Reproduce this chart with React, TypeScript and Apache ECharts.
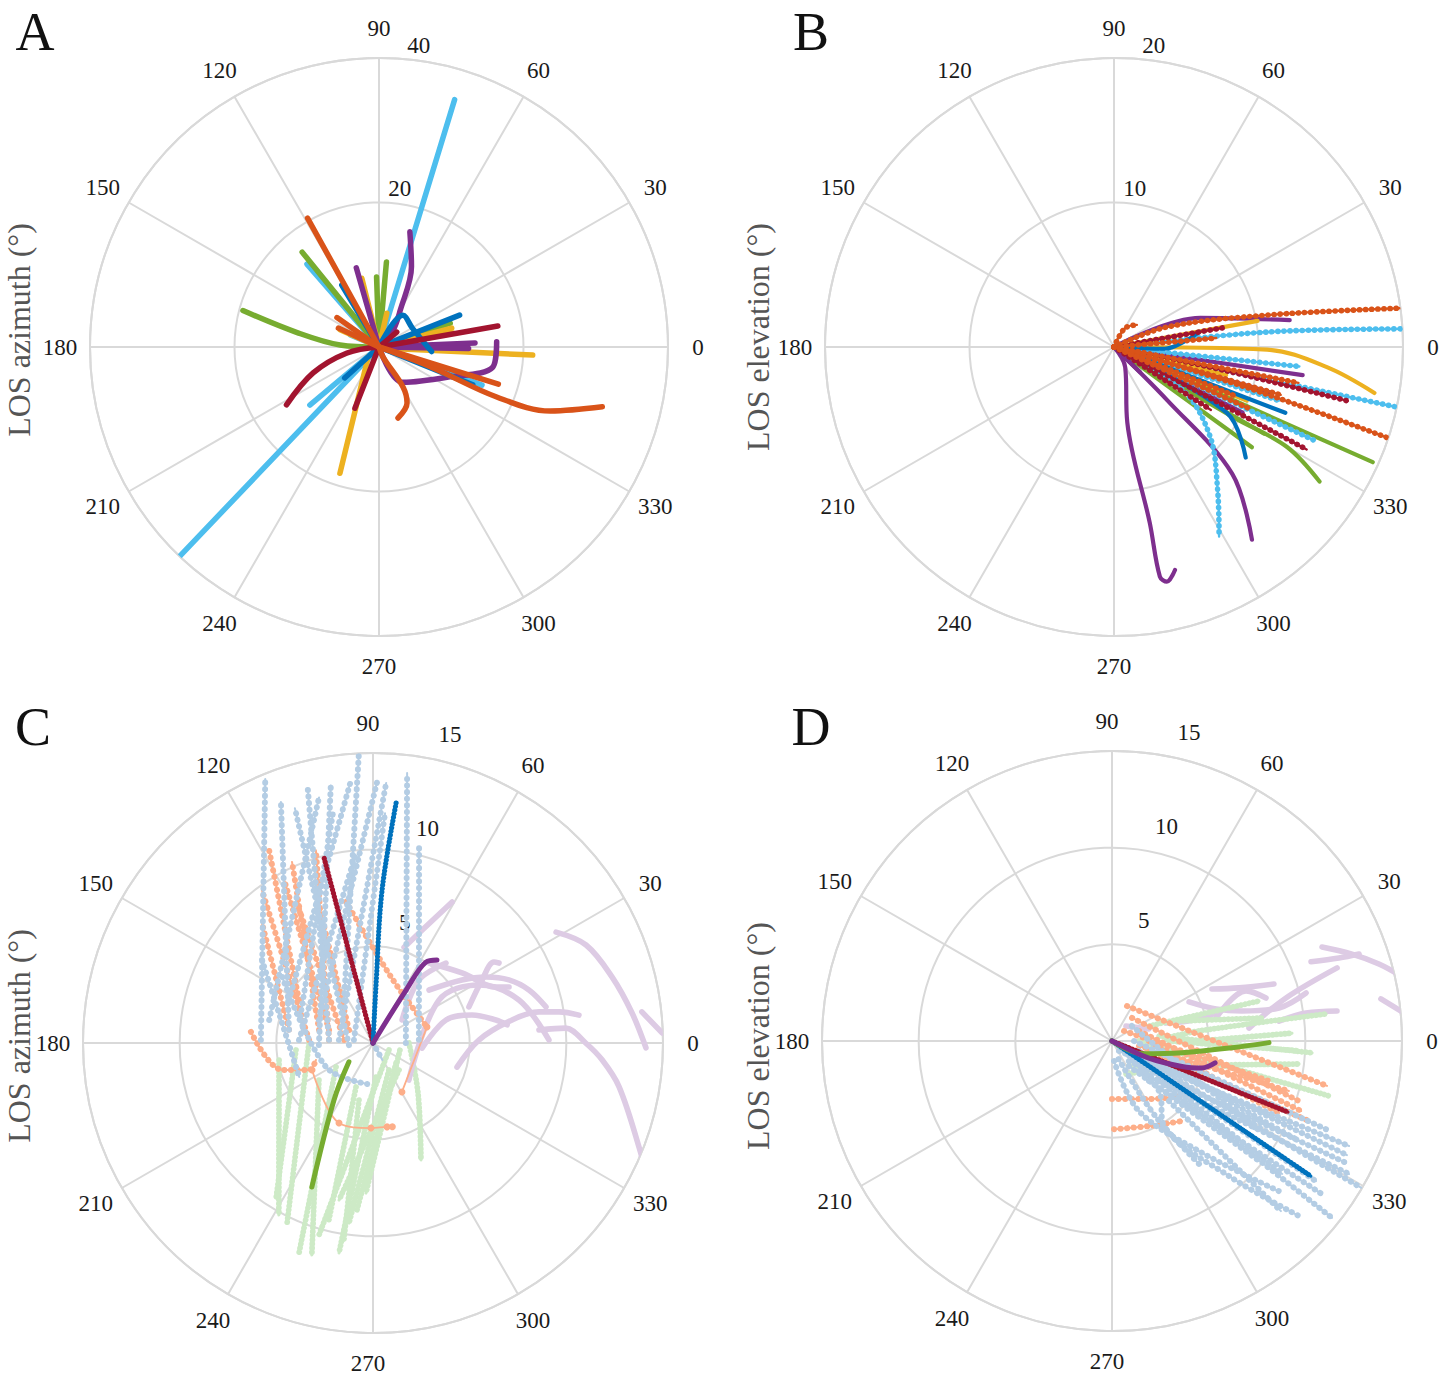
import { useEffect, useRef } from "react";
import * as echarts from "echarts";

type Pt = [number, number]; // [radius, angle in degrees]
type Track = Pt[];

// ---------- tick labels ----------
const ANGLE_TICKS = [0, 30, 60, 90, 120, 150, 180, 210, 240, 270, 300, 330];
const A_RINGS = [20, 40];
const B_RINGS = [10, 20];
const C_RINGS = [5, 10, 15];
const D_RINGS = [5, 10, 15];

// ---------- Panel A (LOS azimuth), values [r, angle] ----------
const aBlue: Track[] = [
  [[0, 121], [10, 121]],
  [[0, 21.6], [12, 21.6]],
  [[0, 60], [5.5, 53], [5.3, 30], [7.3, 355]],
  [[0, 222], [6.4, 222]],
  [[0, 340], [14, 338]],
];
const aOrange: Track[] = [
  [[0, 119], [20.4, 119]],
  [[0, 339], [7.6, 339], [17.7, 337], [25.3, 339.5], [32, 345]],
  [[0, 342], [17.3, 342.7]],
  [[0, 292], [1.5, 292], [6.45, 301], [8.67, 296.6], [10.17, 285]],
  [[0, 145], [7.1, 145]],
  [[0, 155], [6.2, 155]],
];
const aYellow: Track[] = [
  [[1, 350], [21.3, 357]],
  [[2, 222], [18.3, 252.8]],
  [[0, 104], [9.8, 104]],
  [[0, 77], [4.8, 77]],
  [[0, 14.6], [10.4, 14.6]],
  [[0, 10.7], [10.4, 10.7]],
  [[0, 156], [5.9, 156]],
];
const aPurple: Track[] = [
  [[0, 106], [11.4, 106]],
  [[0, 45], [3, 50], [5.9, 60], [12, 68], [16.5, 75]],
  [[0, 10], [13.3, 2.4]],
  [[0, 355], [12.4, 359]],
  [[0, 300], [5.9, 304], [10.3, 336], [16, 350], [16.3, 2.5]],
];
const aGreen: Track[] = [
  [[0, 129], [16.9, 129]],
  [[0, 180], [5.4, 177], [11.5, 170], [19.5, 165]],
  [[0, 92], [9.7, 92]],
  [[0, 85], [11.8, 85]],
  [[0, 18.6], [10.4, 18.6]],
];
const aCyan: Track[] = [
  [[0, 73], [35.8, 73]],
  [[0, 226.4], [42.6, 226.4]],
  [[0, 220], [12.5, 220]],
  [[0, 131], [15.2, 131]],
  [[0, 157], [4.3, 157]],
  [[0, 339.7], [15.2, 339.7]],
];
const aRed: Track[] = [
  [[0, 10], [16.7, 10]],
  [[0, 248.5], [9.1, 248.5]],
  [[0, 180], [4.5, 190.6], [9.8, 201.5], [15.1, 212]],
  [[0, 40], [3.2, 40]],
];

// ---------- Panel B (LOS elevation) ----------
const bOrange: Track[] = [
  [[0, 30], [3.9, 20.7], [10.8, 11.8], [20.1, 7.7]],
  [[0, 10], [7.1, 5]],
  [[0, 345], [10, 343], [20.4, 341.6]],
  [[0, 335], [10.2, 335.5]],
  [[0, 80], [1.5, 60], [2.2, 44]],
  [[0, 348], [12, 344]],
  [[0, 340], [9, 338]],
  [[0, 352], [13, 349]],
];
const bPurple: Track[] = [
  [[0, 25], [6.3, 18.6], [12.3, 8.7]],
  [[0, 351], [13.2, 351.5]],
  [[0, 343], [11.4, 343.8]],
  [[0, 320], [5.2, 315], [12, 313], [16.4, 305.6]],
  [[0, 310], [1.6, 299], [5.3, 280], [12.4, 281.5], [16.2, 281.3], [16.65, 282.7], [16, 285.3]],
  [[0, 320], [2.5, 316]],
  [[0, 338], [10, 333]],
];
const bYellow: Track[] = [
  [[0, 15], [10.1, 10.3]],
  [[0, 3], [10.6, 359], [14.8, 354.6], [18.3, 350]],
  [[0, 338], [9.9, 338]],
  [[0, 350], [8, 346]],
];
const bRed: Track[] = [
  [[0, 12], [7.6, 10]],
  [[0, 347], [8, 348], [16.6, 347]],
  [[0, 332], [15.1, 332]],
  [[0, 328], [8, 327]],
];
const bCyan: Track[] = [
  [[0, 8], [10.6, 5.6], [20, 3.6]],
  [[0, 354], [12.9, 354]],
  [[0, 348], [20.5, 348]],
  [[0, 335], [15.3, 335]],
  [[0, 330], [5.6, 328], [9.1, 317], [12.2, 306], [15, 299]],
  [[0, 345], [12, 342]],
];
const bBlue: Track[] = [
  [[0, 350], [3.5, 358], [5, 5], [6, 10]],
  [[0, 339], [12.7, 339]],
  [[0, 335], [9.05, 329.7], [11.9, 320]],
];
const bGreen: Track[] = [
  [[0, 330], [9.6, 329.5], [13.8, 330], [17, 326.8]],
  [[0, 336], [19.6, 336]],
  [[0, 324], [11.8, 324]],
  [[0, 333], [12, 330]],
];

// ---------- Panel C (LOS azimuth, groups) ----------
const cLightBlue: Track[] = [
  [[5.8, 178.5], [14.75, 112.2]],
  [[4.4, 171], [13.35, 110.9]],
  [[2.28, 176], [13.56, 104.4]],
  [[2.8, 182], [13.5, 99.3]],
  [[4.88, 152.9], [13.5, 95]],
  [[2.68, 124], [14.97, 92.8]],
  [[3.04, 157], [13.5, 89.1]],
  [[1.77, 175], [13.47, 87.1]],
  [[1.7, 0], [14.08, 82.8]],
  [[2.38, 4], [10.36, 76.7]],
  [[1.0, 171], [11.9, 87]],
  [[3.83, 177.7], [9.7, 95.5]],
  [[1.25, 185], [12.8, 108.4]],
  [[5.5, 167.5], [13.0, 102.4]],
  [[7.17, 143.2], [4.2, 204.7]],
  [[5.8, 144], [2.73, 207], [2.14, 262]],
  [[0, 90], [1.0, 299]],
  [[4.0, 160], [12.0, 100]],
];
const cLightOrange: Track[] = [
  [[2.28, 176], [10.4, 106.5]],
  [[2.87, 166.5], [10.26, 114.1]],
  [[4.43, 149.8], [11.34, 118.3]],
  [[3.31, 177.3], [9.78, 126]],
  [[1.5, 174], [8.24, 118.5]],
  [[4.4, 171], [8.45, 132.8]],
  [[7.43, 100.8], [3.54, 74.7], [2.91, 16.5]],
  [[6.34, 174.8], [4.9, 196.5], [3.6, 202.9], [3.08, 196.6]],
  [[2.37, 163.5], [9.6, 118.6]],
  [[1.41, 151.6], [7.67, 111.4]],
];
const cOrangeThin: Track[] = [
  [[2.91, 16.5], [2.94, 300.6]],
  [[3.45, 203.9], [4.5, 247], [4.4, 268.6], [4.4, 279.5], [4.45, 283]],
];
const cLightGreen: Track[] = [
  [[4.0, 185.2], [9.46, 238]],
  [[3.31, 180], [10.32, 244.5]],
  [[2.28, 213], [11.52, 250.6]],
  [[2.44, 248.9], [9.43, 256]],
  [[1.77, 275], [11.0, 260.8]],
  [[1.62, 300.6], [9.4, 262.4]],
  [[1.44, 345], [7.77, 267.3]],
  [[1.58, 319], [8.68, 264.5]],
  [[1.86, 0], [3.48, 312], [6.54, 292.3]],
  [[4.94, 190.3], [10.14, 241.3]],
  [[3.39, 214.4], [11.41, 253.9]],
  [[3.04, 256.2], [10.3, 261.6]],
  [[1.94, 313.9], [8.31, 257.8]],
  [[0.9, 336], [10.3, 254.3]],
];
const cLightPurple: Track[] = [
  [[2.55, 354], [3.96, 17.5], [5.32, 15.8], [6.47, 10.6], [7.0, 7.7]],
  [[4.52, 344], [5.48, 1.6], [7.29, 9.4], [8.74, 10.6], [9.76, 9.5], [10.75, 7.7]],
  [[8.61, 4.5], [10.0, 4.4], [11.0, 0], [11.88, 355.8], [12.93, 349.9], [14.78, 338.6], [16.49, 331.1]],
  [[11.07, 31.2], [12.13, 24.7], [12.83, 15.4], [13.49, 6.6], [14.12, 359]],
  [[14.0, 6.6], [14.96, 2]],
  [[3.99, 43.4], [5.64, 35.3], [6.77, 30.3], [7.75, 24.9], [8.52, 18.8], [9.14, 11.8]],
  [[5.3, 20.6], [6.51, 30], [7.53, 33.8], [7.72, 32.4]],
  [[5.05, 55], [5.86, 38.2], [6.99, 24.5], [7.61, 22.4]],
  [[5.2, 72], [6.5, 66], [8.36, 60.7]],
  [[1.92, 38.4], [4.03, 53.9], [5.6, 47.6]],
  [[2.67, 314], [4.07, 33], [6.25, 28.7], [7.87, 16.4], [9.1, 1]],
];
const cRed: Track[] = [[[0, 90], [9.9, 104.8]]];
const cBlue: Track[] = [[[0, 87], [3.1, 87], [7.93, 86.6], [12.47, 84.5]]];
const cPurple: Track[] = [[[0, 60], [3.23, 58], [5.0, 56.8], [5.42, 52.4]]];
const cGreen: Track[] = [[[1.58, 218], [3.57, 235.6], [8.09, 247]]];

// ---------- Panel D (LOS elevation, groups) ----------
const dLightBlue: Track[] = [
  [[0.63, 305], [13.41, 336.1]],
  [[0.67, 337], [13.51, 334.1]],
  [[1.36, 310], [13.65, 332.5]],
  [[2.09, 312], [14.06, 330.7]],
  [[1.02, 329.5], [15.0, 329.5]],
  [[1.14, 0], [11.97, 337.6]],
  [[3.19, 319.6], [14.6, 321.2]],
  [[4.28, 313.5], [12.4, 314.8]],
  [[2.82, 312.8], [13.44, 323.9]],
  [[1.74, 323.5], [12.8, 325.5]],
  [[1, 290], [4.5, 300], [7.8, 305.3]],
  [[1.38, 325.7], [11.17, 322]],
  [[1.56, 304], [9.81, 320.8]],
  [[1.49, 339.7], [10.97, 331.9]],
  [[1.29, 36.9], [8.92, 328.5]],
  [[1.04, 275.7], [3.88, 291], [7.26, 308.3], [11.6, 318]],
  [[0.8, 320], [3.55, 313.2], [5.16, 301.5], [9.24, 310.9], [13.25, 316.9]],
];
const dLightOrange: Track[] = [
  [[1.97, 66.8], [11.36, 348.2]],
  [[1.58, 49], [10.16, 342.2]],
  [[1.49, 20.3], [10.43, 339.7]],
  [[1.91, 0], [7.49, 337.7]],
  [[1.42, 349.5], [9.51, 344.2]],
  [[2.49, 348], [9.41, 336.7]],
  [[3.0, 270], [3.56, 302.5], [4.6, 321.8]],
  [[4.56, 271.3], [4.8, 293.5], [5.5, 311.2]],
  [[0.81, 39.8], [8.38, 345.7]],
  [[1.98, 344.9], [11.0, 337.9]],
];
const dLightGreen: Track[] = [
  [[2.8, 3.2], [4.53, 6.6], [11.16, 7.2]],
  [[2.45, 6], [10.37, 356.6]],
  [[1.4, 0], [11.58, 345.8]],
  [[2.95, 0], [9.69, 357]],
  [[3.62, 16.6], [7.85, 8.7]],
  [[4.5, 0], [9.32, 2.5]],
  [[1.56, 304], [9.75, 353]],
  [[1.86, 293], [5.12, 348.4]],
  [[2.07, 22], [7.88, 15.2]],
];
const dLightPurple: Track[] = [
  [[11.9, 24.1], [13.2, 19.9], [14.37, 16.1], [15.32, 12.7]],
  [[11.08, 21.7], [12.5, 20.1], [13.55, 19.4]],
  [[14.08, 8.9], [15.03, 5.9]],
  [[5.83, 27.5], [7.12, 22.7], [8.88, 19.4]],
  [[4.47, 26.9], [5.63, 17.1], [6.9, 13], [8.81, 11.2], [10.34, 13.9]],
  [[8.7, 6.8], [10.14, 8.2], [11.74, 7.6]],
  [[7.12, 5.4], [9.27, 13.9], [12.24, 18]],
  [[5.51, 12.5], [7.4, 20.5], [8.27, 15.6]],
  [[2.94, 18.4], [4.64, 14.2], [6.14, 16.1]],
  [[1.06, 47], [2.01, 18]],
];
const dBlue: Track[] = [[[0, 300], [12.44, 325.8]]];
const dRed: Track[] = [[[0, 330], [9.82, 338]]];
const dPurple: Track[] = [[[0, 330], [2.1, 335], [3.85, 340], [4.86, 343.3], [5.45, 348]]];
const dGreen: Track[] = [[[0, 330], [1.69, 337], [3.67, 350.5], [6.22, 356.8], [8.12, 359.4]]];

// ---------- colours ----------
const COL = {
  blue: "#0072BD",
  orange: "#D95319",
  yellow: "#EDB120",
  purple: "#7E2F8E",
  green: "#77AC30",
  cyan: "#4DBEEE",
  red: "#A2142F",
  lBlue: "#b4cde4",
  lOrange: "#fdae89",
  lGreen: "#cdeac6",
  lPurple: "#ddcbe4",
};

const FONT = "'Liberation Serif', 'Times New Roman', serif";
const GRID = "#d9d9d9";

const PANELS = [
  { cx: 379, cy: 347, R: 289, max: 40, step: 20, rings: A_RINGS, letter: "A", title: "LOS azimuth (°)", tx: 19, ty: 330, lx: 35, ly: 32, rlAng: 82.5, rlOff: 15, vx: 0 },
  { cx: 1114, cy: 347, R: 289, max: 20, step: 10, rings: B_RINGS, letter: "B", title: "LOS elevation (°)", tx: 758, ty: 337, lx: 811, ly: 32, rlAng: 82.5, rlOff: 15, vx: 0 },
  { cx: 373, cy: 1043, R: 290, max: 15, step: 5, rings: C_RINGS, letter: "C", title: "LOS azimuth (°)", tx: 19, ty: 1036, lx: 33, ly: 727, rlAng: 76.5, rlOff: 27, vx: -5 },
  { cx: 1112, cy: 1041, R: 290, max: 15, step: 5, rings: D_RINGS, letter: "D", title: "LOS elevation (°)", tx: 758, ty: 1036, lx: 811, ly: 727, rlAng: 76.5, rlOff: 27, vx: -5 },
];

type Style = { w: number; dot?: number; gap?: number; sym?: number };

function mk(pi: number, tracks: Track[], color: string, st: Style): any[] {
  const out: any[] = [];
  tracks.forEach((t) => {
    const base = {
      type: "line",
      coordinateSystem: "polar",
      polarIndex: pi,
      data: t,
      smooth: t.length > 2 ? 0.35 : false,
      clip: false,
      silent: true,
      animation: false,
    };
    out.push({
      ...base,
      symbol: st.sym ? "circle" : "none",
      symbolSize: st.sym || 0,
      showSymbol: !!st.sym,
      itemStyle: { color },
      lineStyle: { color, width: st.w, cap: "round", join: "round" },
    });
    if (st.dot) {
      out.push({
        ...base,
        symbol: "none",
        lineStyle: { color, width: st.dot, type: [0.1, st.gap || 6], cap: "round", join: "round" },
      });
    }
  });
  return out;
}

function buildOption() {
  const polar = PANELS.map((p) => ({ center: [p.cx, p.cy], radius: p.R }));
  const angleAxis = PANELS.map((p, i) => ({
    polarIndex: i,
    type: "value",
    min: 0,
    max: 360,
    interval: 30,
    startAngle: 0,
    clockwise: false,
    axisLine: { show: true, lineStyle: { color: GRID, width: 2 } },
    axisTick: { show: false },
    axisLabel: { show: false },
    splitLine: { show: true, lineStyle: { color: GRID, width: 2 } },
  }));
  const radiusAxis = PANELS.map((p, i) => ({
    polarIndex: i,
    type: "value",
    min: 0,
    max: p.max,
    interval: p.step,
    axisLine: { show: false },
    axisTick: { show: false },
    axisLabel: { show: false },
    splitLine: { show: true, lineStyle: { color: GRID, width: 2 } },
  }));

  const A: Style = { w: 5.5 };
  const Bs: Style = { w: 4.2 };
  const Bd: Style = { w: 2.4, dot: 5.6, gap: 6 };
  const Ld: Style = { w: 2, dot: 6, gap: 6.5 };
  const Lg: Style = { w: 3, dot: 5.8, gap: 4 };
  const Lp: Style = { w: 5.6 };
  const Dk: Style = { w: 3, dot: 5.2, gap: 3.5 };

  const series: any[] = [
    ...mk(0, aCyan, COL.cyan, A),
    ...mk(0, aGreen, COL.green, A),
    ...mk(0, aYellow, COL.yellow, A),
    ...mk(0, aPurple, COL.purple, A),
    ...mk(0, aBlue, COL.blue, A),
    ...mk(0, aRed, COL.red, A),
    ...mk(0, aOrange, COL.orange, A),

    ...mk(1, bGreen, COL.green, Bs),
    ...mk(1, bPurple, COL.purple, Bs),
    ...mk(1, bCyan, COL.cyan, Bd),
    ...mk(1, bYellow, COL.yellow, Bs),
    ...mk(1, bBlue, COL.blue, Bs),
    ...mk(1, bRed, COL.red, Bd),
    ...mk(1, bOrange, COL.orange, Bd),

    ...mk(2, cLightGreen, COL.lGreen, Lg),
    ...mk(2, cLightPurple, COL.lPurple, Lp),
    ...mk(2, cLightOrange, COL.lOrange, Ld),
    ...mk(2, cOrangeThin, COL.lOrange, { w: 1.8, sym: 7 }),
    ...mk(2, cLightBlue, COL.lBlue, Ld),
    ...mk(2, cRed, COL.red, Dk),
    ...mk(2, cBlue, COL.blue, Dk),
    ...mk(2, cPurple, COL.purple, { w: 5 }),
    ...mk(2, cGreen, COL.green, { w: 5 }),

    ...mk(3, dLightPurple, COL.lPurple, Lp),
    ...mk(3, dLightGreen, COL.lGreen, Lg),
    ...mk(3, dLightOrange, COL.lOrange, Ld),
    ...mk(3, dLightBlue, COL.lBlue, Ld),
    ...mk(3, dRed, COL.red, Dk),
    ...mk(3, dBlue, COL.blue, Dk),
    ...mk(3, dGreen, COL.green, { w: 5 }),
    ...mk(3, dPurple, COL.purple, { w: 5 }),
  ];

  const graphic: any[] = [];
  PANELS.forEach((p) => {
    const lr = p.R + 30;
    ANGLE_TICKS.forEach((a) => {
      const rad = (a * Math.PI) / 180;
      const shift = a === 90 || a === 270 ? p.vx : 0;
      graphic.push({
        type: "text",
        x: p.cx + lr * Math.cos(rad) + shift,
        y: p.cy - lr * Math.sin(rad),
        silent: true,
        style: { text: String(a), fill: "#1a1a1a", fontSize: 23, fontFamily: FONT, align: "center", verticalAlign: "middle" },
      });
    });
    p.rings.forEach((v) => {
      const rp = (v / p.max) * p.R + p.rlOff;
      const rad = (p.rlAng * Math.PI) / 180;
      graphic.push({
        type: "text",
        x: p.cx + rp * Math.cos(rad) + (p.vx ? 3 : 0),
        y: p.cy - rp * Math.sin(rad),
        silent: true,
        style: { text: String(v), fill: "#1a1a1a", fontSize: 23, fontFamily: FONT, align: "center", verticalAlign: "middle" },
      });
    });
    graphic.push({
      type: "text",
      x: p.lx,
      y: p.ly,
      silent: true,
      style: { text: p.letter, fill: "#111", fontSize: 54, fontFamily: FONT, align: "center", verticalAlign: "middle" },
    });
    graphic.push({
      type: "text",
      x: p.tx,
      y: p.ty,
      rotation: Math.PI / 2,
      silent: true,
      style: { text: p.title, fill: "#555", fontSize: 32, fontFamily: FONT, align: "center", verticalAlign: "middle" },
    });
  });

  return {
    animation: false,
    backgroundColor: "#ffffff",
    polar,
    angleAxis,
    radiusAxis,
    series,
    graphic,
  };
}

export default function App() {
  const ref = useRef<HTMLDivElement>(null);
  useEffect(() => {
    if (!ref.current) return;
    const chart = echarts.init(ref.current, undefined, { renderer: "svg" });
    chart.setOption(buildOption() as any);
    return () => chart.dispose();
  }, []);
  return (
    <div
      ref={ref}
      style={{ position: "absolute", left: 0, top: 0, width: 1439, height: 1381, background: "#fff" }}
    />
  );
}
